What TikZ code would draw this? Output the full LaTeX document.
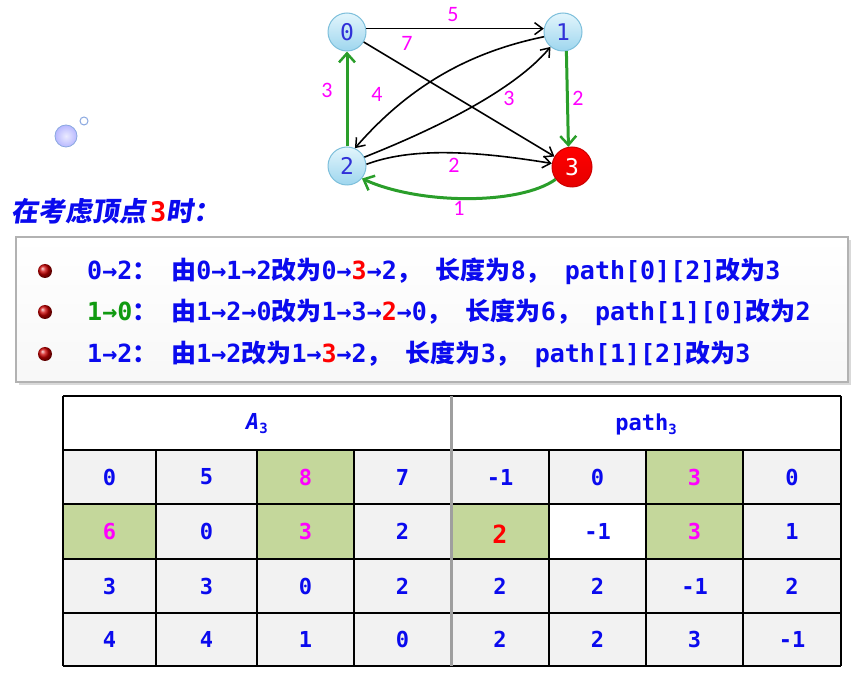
\documentclass[tikz,border=0pt]{standalone}
\usepackage{fontspec}
\usetikzlibrary{arrows.meta}
\setmainfont{DejaVu Sans Mono}
\newfontfamily\mono{DejaVu Sans Mono}
\newfontfamily\zh{Noto Sans CJK SC}
\newfontfamily\zhs{Noto Sans CJK SC}[FakeSlant=0.15]
\newfontfamily\lblfont{Carlito}
\newcommand\mn[1]{{\mono\bfseries #1}}
\newcommand\zc[1]{{\zh\bfseries #1}}
\newcommand\pu[1]{{\zh\bfseries #1}\kern14pt}
\definecolor{tb}{HTML}{0A0AEE}
\definecolor{mg}{HTML}{FF00FF}
\definecolor{rd}{HTML}{FF0000}
\definecolor{gtext}{HTML}{109A10}
\definecolor{gedge}{HTML}{2A9E2A}
\definecolor{cellgray}{HTML}{F2F2F2}
\definecolor{olive}{HTML}{C4D79B}
\definecolor{vtop}{HTML}{E2F5FC}
\definecolor{vbot}{HTML}{9ED6EE}
\definecolor{vborder}{HTML}{7DBFDB}
\definecolor{vtext}{HTML}{3030D8}
\definecolor{bubble}{HTML}{8AA8E0}
\tikzset{
  vert/.style={circle, minimum size=38pt, inner sep=0pt, draw=vborder, line width=1pt,
    top color=vtop, bottom color=vbot, text=vtext, font=\mono\fontsize{23}{23}\selectfont},
  redvert/.style={circle, minimum size=40pt, inner sep=0pt, draw=rd!80!black, line width=1pt,
    top color=rd, bottom color=rd!90!black, text=white, font=\mono\fontsize{23}{23}\selectfont},
  lbl/.style={inner sep=0pt, text=mg, font=\lblfont\fontsize{22}{22}\selectfont},
  bedge/.style={line width=1.6pt, -{Straight Barb[length=8pt,width=12pt,line width=1.5pt]}},
  gedgest/.style={line width=3pt, draw=gedge, -{Straight Barb[length=9pt,width=16pt,line width=2.5pt]}},
  bullet/.style={circle, minimum size=14pt, inner sep=0pt, ball color=rd!80!black},
  txtline/.style={anchor=base west, inner sep=0pt, text=tb, font=\fontsize{25}{30}\selectfont},
  cell/.style={inner sep=0pt, text=tb, font=\mono\bfseries\fontsize{22}{22}\selectfont},
}
\begin{document}
\begin{tikzpicture}[x=1pt,y=-1pt]
\useasboundingbox (0,0) rectangle (860,676);
% bubbles
\node[circle, minimum size=22pt, inner sep=0pt, draw=bubble, line width=0.8pt, inner color=blue!8, outer color=blue!28] (bub1) at (66,136) {};
\node[circle, minimum size=8pt, inner sep=0pt, draw=bubble, line width=1pt, fill=white] (bub2) at (84,121) {};
% graph vertices
\node[vert] (n0) at (347,32) {0};
\node[vert] (n1) at (563,32) {1};
\node[vert] (n2) at (347,166) {2};
\node[redvert] (n3) at (572,167) {3};
% black edges
\draw[bedge] (n0.10) -- (n1.170);
\draw[bedge] (n0) -- (n3);
\draw[bedge] (n1.194) .. controls (470,52) and (410,85) .. (n2.66);
\draw[bedge] (n2.27) .. controls (420,135) and (510,95) .. (n1.230);
\draw[bedge] (n2.5) .. controls (410,148) and (470,150) .. (n3.170);
% green edges
\draw[gedgest] (n1.-80) -- (n3.100);
\draw[gedgest] (n2.north) -- (n0.south);
\draw[gedgest] (n3.217) .. controls (520,205) and (420,205) .. (n2.-40);
% edge labels
\node[lbl] (l01) at (453,15) {5};
\node[lbl] (l03) at (407,43) {7};
\node[lbl] (l20) at (327,90) {3};
\node[lbl] (l12) at (377,94) {4};
\node[lbl] (l21) at (509,98) {3};
\node[lbl] (l13) at (578,98) {2};
\node[lbl] (l23) at (454,165) {2};
\node[lbl] (l32) at (459,208) {1};
% heading
\node[anchor=base west, inner sep=0pt, text=tb, font=\fontsize{27}{30}\selectfont] (head) at (11,222)
  {{\zhs\bfseries 在考虑顶点}\kern4pt\textcolor{rd}{\mn{3}}{\zhs\bfseries 时：}};
% list box
\fill[gray!30] (19,240) rectangle (851,385);
\draw[draw=gray!60, line width=1.5pt, top color=white, bottom color=gray!6] (16,237) rectangle (848,382);
\node[bullet] (b1) at (45,271) {};
\node[bullet] (b2) at (45,312) {};
\node[bullet] (b3) at (45,354) {};
\node[txtline] (t1) at (87,280) {\mn{0→2}\pu{：}\zc{由}\mn{0→1→2}\zc{改为}\mn{0→}\textcolor{rd}{\mn{3}}\mn{→2}\pu{，}\zc{长度为}\mn{8}\pu{，}\mn{path[0][2]}\zc{改为}\mn{3}};
\node[txtline] (t2) at (87,321) {\textcolor{gtext}{\mn{1→0}}\pu{：}\zc{由}\mn{1→2→0}\zc{改为}\mn{1→3→}\textcolor{rd}{\mn{2}}\mn{→0}\pu{，}\zc{长度为}\mn{6}\pu{，}\mn{path[1][0]}\zc{改为}\mn{2}};
\node[txtline] (t3) at (87,363) {\mn{1→2}\pu{：}\zc{由}\mn{1→2}\zc{改为}\mn{1→}\textcolor{rd}{\mn{3}}\mn{→2}\pu{，}\zc{长度为}\mn{3}\pu{，}\mn{path[1][2]}\zc{改为}\mn{3}};
% table fills
\fill[white] (63,396) rectangle (841,450);
\fill[cellgray] (63,450) rectangle (841,666);
\fill[olive] (257,450) rectangle (354,504);
\fill[olive] (63,504) rectangle (156,559);
\fill[olive] (257,504) rectangle (354,559);
\fill[olive] (646,450) rectangle (743,504);
\fill[olive] (451,504) rectangle (549,559);
\fill[olive] (646,504) rectangle (743,559);
\fill[white] (549,504) rectangle (646,559);
% table lines
\foreach \yy in {396,450,504,559,613,666} \draw[line width=1.3pt] (63,\yy) -- (841,\yy);
\draw[line width=1.3pt] (63,396) -- (63,666);
\draw[line width=1.3pt] (841,396) -- (841,666);
\foreach \xx in {156,257,354,549,646,743} \draw[line width=1.3pt] (\xx,450) -- (\xx,666);
\draw[line width=3pt, draw=gray!75] (451,396) -- (451,666);
% headers
\node[inner sep=0pt, text=tb, font=\mono\bfseries\fontsize{22}{22}\selectfont] (hA) at (257,424) {\textit{A}\raisebox{-4pt}{\fontsize{14}{14}\selectfont 3}};
\node[inner sep=0pt, text=tb, font=\mono\bfseries\fontsize{22}{22}\selectfont] (hP) at (646,424) {path\raisebox{-4pt}{\fontsize{14}{14}\selectfont 3}};
% cells
\foreach \n/\x/\y/\t/\cl in {
 a00/109.5/477/0/tb, a01/206.5/477/5/tb, a02/305.5/477/8/mg, a03/402.5/477/7/tb,
 a10/109.5/531.5/6/mg, a11/206.5/531.5/0/tb, a12/305.5/531.5/3/mg, a13/402.5/531.5/2/tb,
 a20/109.5/586/3/tb, a21/206.5/586/3/tb, a22/305.5/586/0/tb, a23/402.5/586/2/tb,
 a30/109.5/639.5/4/tb, a31/206.5/639.5/4/tb, a32/305.5/639.5/1/tb, a33/402.5/639.5/0/tb,
 p00/500/477/-1/tb, p01/597.5/477/0/tb, p02/694.5/477/3/mg, p03/792/477/0/tb,
 p11/597.5/531.5/-1/tb, p12/694.5/531.5/3/mg, p13/792/531.5/1/tb,
 p20/500/586/2/tb, p21/597.5/586/2/tb, p22/694.5/586/-1/tb, p23/792/586/2/tb,
 p30/500/639.5/2/tb, p31/597.5/639.5/2/tb, p32/694.5/639.5/3/tb, p33/792/639.5/-1/tb}
 \node[cell, text=\cl] (\n) at (\x,\y) {\t};
\node[cell, text=rd, font=\mono\bfseries\fontsize{25}{25}\selectfont] (p10) at (500,534) {2};
\end{tikzpicture}
\end{document}
